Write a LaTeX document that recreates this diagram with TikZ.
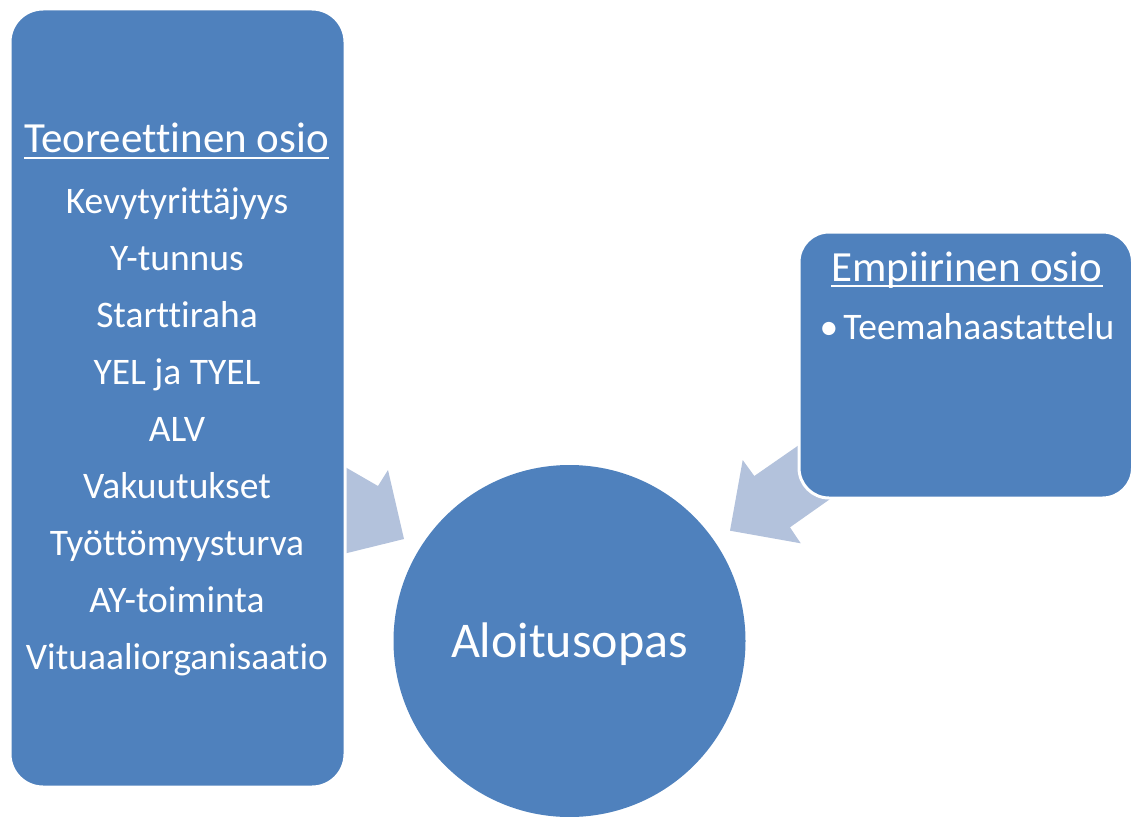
\documentclass[tikz,border=0pt]{standalone}
\usepackage{fontspec}
\setmainfont{Carlito}[Ligatures={NoCommon}]
\definecolor{boxblue}{RGB}{79,129,189}
\definecolor{arrowblue}{RGB}{179,194,220}
\begin{document}
\begin{tikzpicture}[x=1pt,y=-1pt,
  blockbox/.style={fill=boxblue,draw=white,line width=3pt},
  txt/.style={text=white,anchor=base,inner sep=0pt},
  itemtxt/.style={txt,font=\fontsize{37.5}{44}\selectfont},
  titletxt/.style={txt,font=\fontsize{43}{50}\selectfont},
  uline/.style={draw=white,line width=2pt},
  arrowshape/.style={fill=arrowblue,draw=none}]
\useasboundingbox (0,0) rectangle (1134,816);
% arrows (behind boxes)
\fill[arrowshape] (300,441) -- (378,486) -- (388,470) -- (404,539) -- (335,556) -- (345,540) -- (300,515) -- cycle;
\fill[arrowshape] (835,420) -- (754.3,476) -- (742.7,460) -- (730,530.7) -- (800.7,543.3) -- (790,527.3) -- (850,485) -- cycle;
% left box
\filldraw[blockbox,rounded corners=33pt] (10,9) rectangle (345,787);
% right box
\filldraw[blockbox,rounded corners=30pt] (799,232) rectangle (1132.5,498);
% circle
\filldraw[blockbox,line width=0pt,draw=none] (569.5,641) circle[radius=176];
\node[txt,font=\fontsize{50}{58}\selectfont] (alo) at (569.5,657) {Aloitusopas};
% left texts
\node[titletxt] (teo) at (176.5,152.7) {Teoreettinen osio};
\draw[uline] ([yshift=-5.5pt]teo.base west) -- ([yshift=-5.5pt]teo.base east);
\node[itemtxt] (i1) at (177,213.3) {Kevytyrittäjyys};
\node[itemtxt] (i2) at (177,270.3) {Y-tunnus};
\node[itemtxt] (i3) at (177,327.3) {Starttiraha};
\node[itemtxt] (i4) at (177,384.3) {YEL ja TYEL};
\node[itemtxt] (i5) at (177,441.3) {ALV};
\node[itemtxt] (i6) at (177,498.3) {Vakuutukset};
\node[itemtxt] (i7) at (177,555.3) {Työttömyysturva};
\node[itemtxt] (i8) at (177,612.3) {AY-toiminta};
\node[itemtxt] (i9) at (177,669.3) {Vituaaliorganisaatio};
% right texts
\node[titletxt] (emp) at (967,281) {Empiirinen osio};
\draw[uline] ([yshift=-5pt]emp.base west) -- ([yshift=-5pt]emp.base east);
\node[itemtxt] (tee) at (967,339) {\textbullet\hspace{5pt}Teemahaastattelu};
\end{tikzpicture}
\end{document}
